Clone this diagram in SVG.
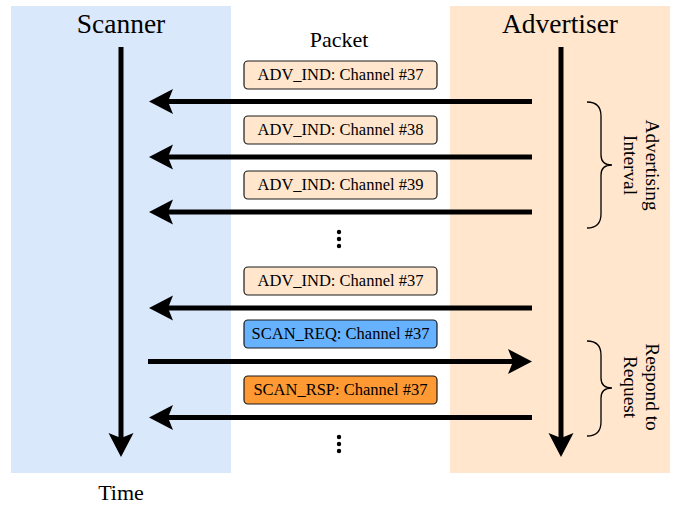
<svg xmlns="http://www.w3.org/2000/svg" width="673" height="506" viewBox="0 0 673 506">
<style>
.title{font-size:27.5px;text-anchor:middle}
.lbl{font-size:22px;text-anchor:middle}
.side{font-size:19.3px;text-anchor:middle}
.pkt{font-size:16.5px;text-anchor:middle}
.box{stroke:#1a1a1a;stroke-width:1.2}
.adv{fill:#ffe6cc}
.req{fill:#66b2ff}
.rsp{fill:#ff9933}
.conn line{stroke:#000;stroke-width:5;fill:none;marker-end:url(#ah)}
.brace{fill:none;stroke:#000;stroke-width:1.3}
</style>
<defs>
<marker id="ah" markerUnits="userSpaceOnUse" viewBox="0 -13 24 26" markerWidth="24" markerHeight="26" refX="5" refY="0" orient="auto" overflow="visible">
<path d="M0,-12.5 L24,0 L0,12.5 L5,0 Z" fill="#000"/>
</marker>
</defs>
<rect width="673" height="506" fill="#fff"/>
<g id="scanner">
<rect x="11" y="6" width="220" height="467" fill="#dae8fc"/>
<text class="title" font-family="Liberation Serif" x="121" y="33">Scanner</text>
</g>
<g id="advertiser">
<rect x="450" y="6" width="220" height="467" fill="#ffe6cc"/>
<text class="title" font-family="Liberation Serif" x="560" y="33">Advertiser</text>
</g>
<g id="packet-label"><text class="lbl" font-family="Liberation Serif" x="339" y="47">Packet</text></g>
<g id="time-label"><text class="lbl" font-family="Liberation Serif" x="121" y="500">Time</text></g>
<g id="pkt1"><rect class="box adv" x="244" y="61" width="193" height="28" rx="4"/><text class="pkt" font-family="Liberation Serif" x="340.5" y="80">ADV_IND: Channel #37</text></g>
<g id="pkt2"><rect class="box adv" x="244" y="116" width="193" height="28" rx="4"/><text class="pkt" font-family="Liberation Serif" x="340.5" y="135">ADV_IND: Channel #38</text></g>
<g id="pkt3"><rect class="box adv" x="244" y="171" width="193" height="28" rx="4"/><text class="pkt" font-family="Liberation Serif" x="340.5" y="190">ADV_IND: Channel #39</text></g>
<g id="dots1"><circle cx="339" cy="232" r="2.2"/><circle cx="339" cy="239" r="2.2"/><circle cx="339" cy="246" r="2.2"/></g>
<g id="pkt4"><rect class="box adv" x="244" y="267" width="193" height="28" rx="4"/><text class="pkt" font-family="Liberation Serif" x="340.5" y="286">ADV_IND: Channel #37</text></g>
<g id="pkt5"><rect class="box req" x="244" y="320" width="193" height="28" rx="4"/><text class="pkt" font-family="Liberation Serif" x="340.5" y="339">SCAN_REQ: Channel #37</text></g>
<g id="pkt6"><rect class="box rsp" x="244" y="376" width="193" height="28" rx="4"/><text class="pkt" font-family="Liberation Serif" x="340.5" y="395">SCAN_RSP: Channel #37</text></g>
<g id="dots2"><circle cx="339" cy="437" r="2.2"/><circle cx="339" cy="444" r="2.2"/><circle cx="339" cy="451" r="2.2"/></g>
<g id="adv-interval">
<path class="brace" d="M587,102 Q601,102 601,116 L601,155 Q601,165 612,165 Q601,165 601,175 L601,214 Q601,228 587,228"/>
<text class="side" font-family="Liberation Serif" transform="translate(646,165) rotate(90)">Advertising</text>
<text class="side" font-family="Liberation Serif" transform="translate(624,165) rotate(90)">Interval</text>
</g>
<g id="respond">
<path class="brace" d="M587,341 Q601,341 601,355 L601,378 Q601,388 612,388 Q601,388 601,398 L601,422 Q601,436 587,436"/>
<text class="side" font-family="Liberation Serif" transform="translate(646,387) rotate(90)">Respond to</text>
<text class="side" font-family="Liberation Serif" transform="translate(624,387) rotate(90)">Request</text>
</g>
<g id="connectors" class="conn">
<line x1="121" y1="47" x2="121" y2="438"/>
<line x1="561" y1="47" x2="561" y2="438"/>
<line x1="532" y1="101.5" x2="168" y2="101.5"/>
<line x1="532" y1="157" x2="168" y2="157"/>
<line x1="532" y1="212" x2="168" y2="212"/>
<line x1="532" y1="308" x2="168" y2="308"/>
<line x1="148" y1="361.5" x2="513" y2="361.5"/>
<line x1="532" y1="417.5" x2="168" y2="417.5"/>
</g>
</svg>
